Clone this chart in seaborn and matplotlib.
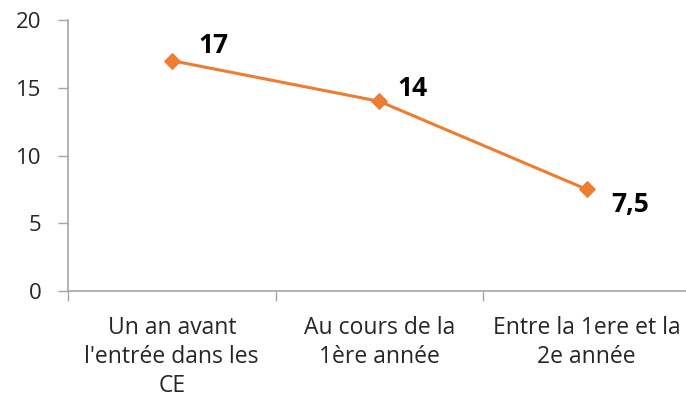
import matplotlib
matplotlib.use('Agg')
import matplotlib.pyplot as plt
import seaborn as sns
import pandas as pd

# Data
categories = ["Un an avant\nl'entrée dans les\nCE", "Au cours de la\n1ère année", "Entre la 1ere et la\n2e année"]
values = [17, 14, 7.5]
value_labels = ["17", "14", "7,5"]
label_offsets = [(30, 11), (24, 9.5), (31, -11)]  # in points

sns.set_theme(style="white")
plt.rcParams['font.family'] = ['Open Sans', 'DejaVu Sans']

df = pd.DataFrame({'x': range(len(values)), 'y': values})

fig = plt.figure(figsize=(6.86, 4.01), dpi=100)
ax = fig.add_axes([68 / 686, 1 - 291 / 401, 622.5 / 686, 271 / 401])

orange = '#ED7D31'
grey = '#A6A6A6'
sns.lineplot(data=df, x='x', y='y', ax=ax, color=orange, linewidth=2.2,
             marker='D', markersize=8.5, markeredgecolor=orange, markerfacecolor=orange)

for i, (v, lab) in enumerate(zip(values, value_labels)):
    ax.annotate(lab, (i, v), xytext=label_offsets[i], textcoords='offset points',
                ha='center', va='center', fontsize=19, fontweight='bold', color='black')

ax.set_xlim(-0.5, 2.5)
ax.set_ylim(0, 20)
ax.set_yticks([0, 5, 10, 15, 20])
ax.set_xticks(range(len(categories)))
ax.set_xticklabels(categories, fontsize=16.5, linespacing=1.27)
ax.set_xticks([-0.5, 0.5, 1.5, 2.5], minor=True)
ax.tick_params(axis='x', which='major', length=0, pad=18)
ax.tick_params(axis='x', which='minor', length=7, width=1, color=grey, direction='out', bottom=True)
ax.tick_params(axis='y', length=7, width=1, color=grey, direction='out', left=True, labelsize=16, pad=12)
ax.set_xlabel('')
ax.set_ylabel('')

for side in ['top', 'right']:
    ax.spines[side].set_visible(False)
for side in ['left', 'bottom']:
    ax.spines[side].set_color(grey)
    ax.spines[side].set_linewidth(1.2)

fig.savefig('out.png', dpi=100)
